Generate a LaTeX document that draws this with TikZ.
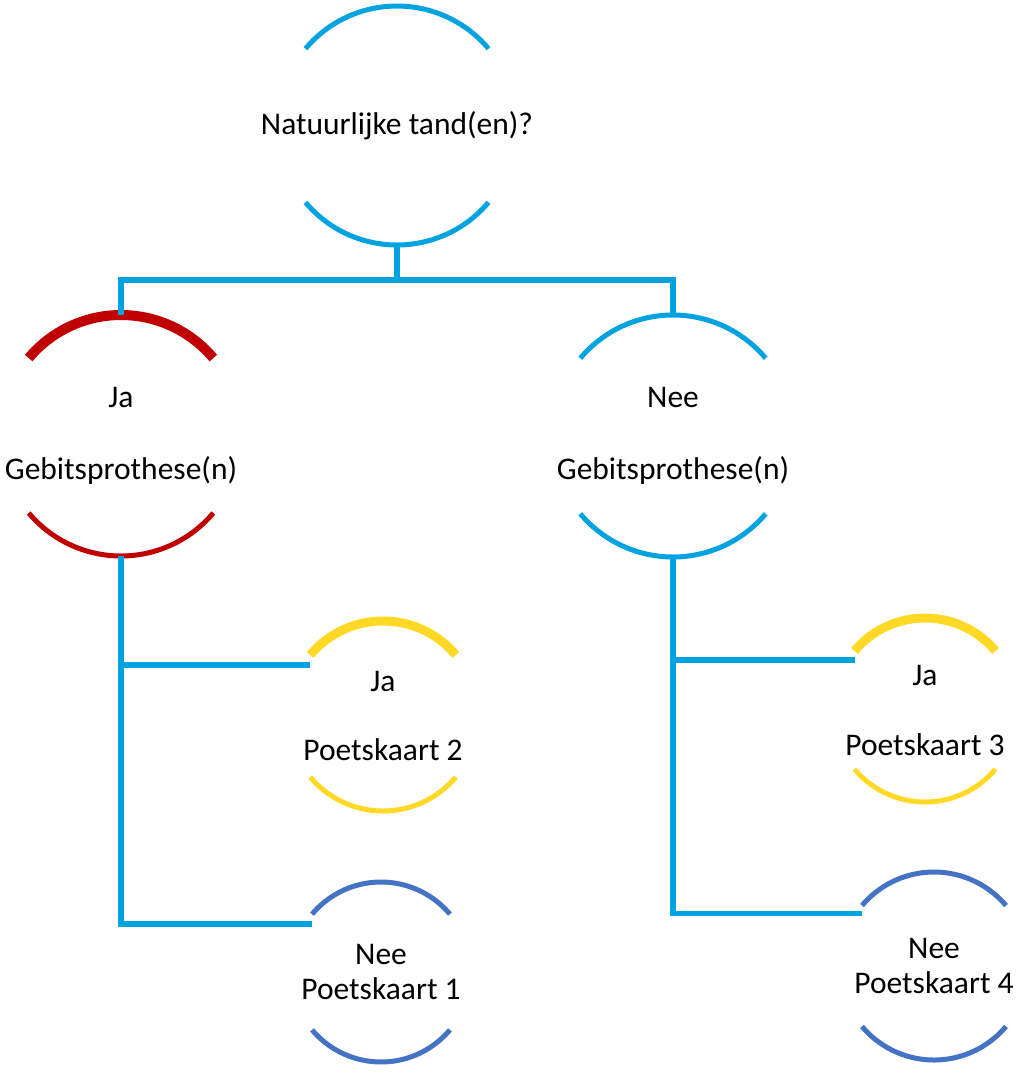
\documentclass[tikz,border=0pt]{standalone}
\usepackage{fontspec}
\setmainfont{Carlito}
\usepackage{tikz}
\definecolor{linkblue}{RGB}{0,163,224}
\definecolor{jared}{RGB}{192,0,0}
\definecolor{jageel}{RGB}{255,217,38}
\definecolor{neeblauw}{RGB}{68,114,196}

\begin{document}
\begin{tikzpicture}
[x=1pt,y=-1pt,%
  link/.style={draw=linkblue,line width=5.5pt},%
  ring/.style={shape=circle,draw=none,inner sep=0pt,outer sep=0pt,minimum size=#1},%
  lbl/.style={font=\fontsize{31.5}{#1}\selectfont,align=center,inner sep=0pt},%
  lbl/.default=38]
\useasboundingbox (0,0) rectangle (1016,1072);
% vraag
\node[ring=239pt] (tand) at (397,125.5) {};
\node[lbl] (tandtxt) at (tand) {Natuurlijke tand(en)?};
% gebitsprothese ja / nee
\node[ring=241pt] (ja) at (121,435.5) {};
\node[lbl=72] (jatxt) at (ja) {Ja\\Gebitsprothese(n)};
\node[ring=242pt] (nee) at (673,436) {};
\node[lbl=72] (neetxt) at (nee) {Nee\\Gebitsprothese(n)};
% poetskaarten
\node[ring=190pt] (kaart2) at (383,716) {};
\node[lbl=69] (kaart2txt) at (kaart2) {Ja\\Poetskaart 2};
\node[ring=180pt] (kaart1) at (381,972) {};
\node[lbl=35] (kaart1txt) at (kaart1) {Nee\\Poetskaart 1};
\node[ring=184pt] (kaart3) at (925,710) {};
\node[lbl=70] (kaart3txt) at (kaart3) {Ja\\Poetskaart 3};
\node[ring=188pt] (kaart4) at (934,966) {};
\node[lbl=35] (kaart4txt) at (kaart4) {Nee\\Poetskaart 4};
% bogen boven en onder
\foreach \n/\r/\c/\wt/\wb in {tand/119.5/linkblue/5/5,ja/120.5/jared/10/5,
    nee/121/linkblue/5/5,kaart2/95/jageel/9/5,kaart1/90/neeblauw/5/5,
    kaart3/92/jageel/9/5,kaart4/94/neeblauw/5/5}
{
  \draw[\c,line width=\wt pt] (\n.140) arc[start angle=140,end angle=40,radius=\r pt];
  \draw[\c,line width=\wb pt] (\n.220) arc[start angle=220,end angle=320,radius=\r pt];
}
% verbindingen
\coordinate (split) at (397,280);
\draw[link] (tand.south) -- (split);
\draw[link] (ja.north) |- (split) -| (nee.north);
\draw[link] (ja.south) |- ([yshift=-10pt]kaart2.140);
\draw[link] (ja.south) |- ([yshift=-10pt]kaart1.140);
\draw[link] (nee.south) |- ([yshift=-9pt]kaart3.140);
\draw[link] (nee.south) |- ([yshift=-8pt]kaart4.140);
\end{tikzpicture}
\end{document}
